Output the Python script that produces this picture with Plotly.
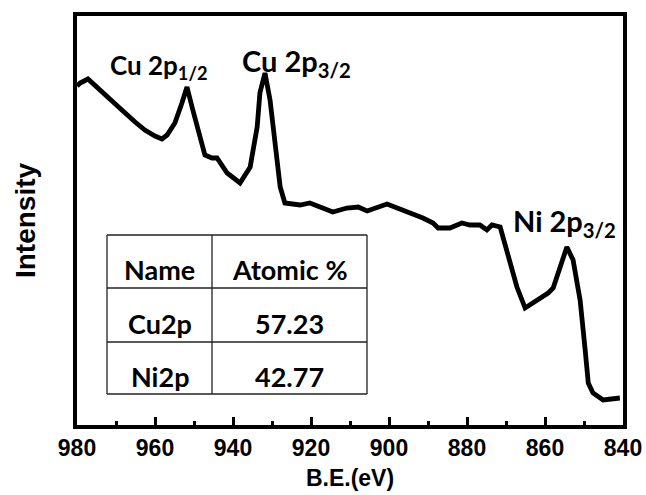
import plotly.graph_objects as go

# Binding energy (eV) and intensity (a.u.)
be = [980.0, 979.2, 977.2, 974.5, 972.1, 968.5, 965.1, 962.6, 960.0, 958.2, 956.9, 954.9,
      953.1, 951.8, 950.3, 948.5, 947.2, 945.4, 944.1, 941.5, 938.2, 935.6, 933.8,
      933.1, 931.8, 930.5, 929.2, 927.9, 926.7, 922.8, 920.3, 917.7, 914.4, 910.8,
      907.9, 905.6, 903.1, 900.5, 897.9, 895.4, 892.8, 891.3, 888.7, 887.4, 884.4,
      881.3, 879.2, 876.7, 874.9, 873.6, 871.5, 869.0, 867.2, 865.1, 862.1, 859.2,
      857.9, 856.2, 854.4, 852.8, 851.0, 849.7, 848.9, 847.7, 845.1, 840.8]
intensity = [339, 342, 346, 336, 327, 315, 303, 295, 289, 286, 290, 302,
             322, 338, 315, 288, 270, 267, 267, 252, 242, 258, 298,
             332, 352, 325, 282, 238, 222, 220, 222, 218, 213, 217,
             218, 214, 217, 221, 217, 213, 210, 207, 202, 197, 197,
             202, 200, 200, 195, 200, 198, 165, 138, 117, 125, 132,
             137, 158, 178, 165, 125, 75, 42, 32, 25, 27]

x_ticks = [980, 960, 940, 920, 900, 880, 860, 840]

peak_labels = ["Cu 2p<sub>1/2</sub>", "Cu 2p<sub>3/2</sub>", "Ni 2p<sub>3/2</sub>"]
peak_x = [972.0, 938.3, 868.6]
peak_y = [359, 363, 203]
peak_size = [26, 29, 29]

table_header = ["Name", "Atomic %"]
table_names = ["Cu2p", "Ni2p"]
table_values = ["57.23", "42.77"]

fig = go.Figure()
fig.add_trace(go.Scatter(x=be, y=intensity, mode="lines",
                         line=dict(color="black", width=4.8), showlegend=False))

for t, xx, yy, s in zip(peak_labels, peak_x, peak_y, peak_size):
    fig.add_annotation(x=xx, y=yy, text=t, showarrow=False, xanchor="left",
                       yanchor="middle",
                       font=dict(family="Lato", size=s, color="black", weight="bold"))

# Table (paper coordinates)
W, H = 646, 495
L, R, T, B = 77, 23, 16, 70
pw, ph = W - L - R, H - T - B

def px(xp):
    return (xp - L) / pw

def py(yp):
    return (H - B - yp) / ph

col_edges = [107, 212, 367]
row_edges = [235, 288, 342, 394]
for xe in col_edges:
    fig.add_shape(type="line", xref="paper", yref="paper", x0=px(xe), x1=px(xe),
                  y0=py(row_edges[0]), y1=py(row_edges[-1]),
                  line=dict(color="#222", width=1.3))
for ye in row_edges:
    fig.add_shape(type="line", xref="paper", yref="paper", x0=px(col_edges[0]),
                  x1=px(col_edges[-1]), y0=py(ye), y1=py(ye),
                  line=dict(color="#222", width=1.3))

rows = [table_header] + [[n, v] for n, v in zip(table_names, table_values)]
for r, row in enumerate(rows):
    ymid = (row_edges[r] + row_edges[r + 1]) / 2 + 8
    for c, txt in enumerate(row):
        xmid = (col_edges[c] + col_edges[c + 1]) / 2
        fig.add_annotation(x=px(xmid), y=py(ymid), xref="paper", yref="paper",
                           text=txt, showarrow=False, xanchor="center", yanchor="middle",
                           font=dict(family="Lato", size=27, color="black", weight="bold"))

fig.update_xaxes(range=[980, 840], tickvals=x_ticks, ticks="inside", ticklen=8,
                 tickwidth=3, tickcolor="black", showline=True, linewidth=3.5,
                 linecolor="black", mirror=True, showgrid=False, zeroline=False,
                 automargin=False,
                 minor=dict(ticks="inside", ticklen=4, tickwidth=3, dtick=10,
                            tickcolor="black", showgrid=False),
                 tickfont=dict(family="Liberation Sans", size=23, color="black", weight="bold"),
                 title=dict(text="B.E.(eV)", standoff=11,
                            font=dict(family="Liberation Sans", size=23, color="black", weight="bold")))
fig.update_yaxes(range=[0, 409], showticklabels=False, ticks="", showline=True,
                 linewidth=3.5, linecolor="black", mirror=True, showgrid=False,
                 zeroline=False, automargin=False,
                 title=dict(text="Intensity", standoff=30,
                            font=dict(family="Liberation Sans", size=28, color="black", weight="bold")))

fig.update_layout(width=W, height=H, margin=dict(l=L, r=R, t=T, b=B),
                  plot_bgcolor="white", paper_bgcolor="white")

fig.write_html("out.html", config={"displayModeBar": False},
               post_script="document.body.style.margin='0';")
